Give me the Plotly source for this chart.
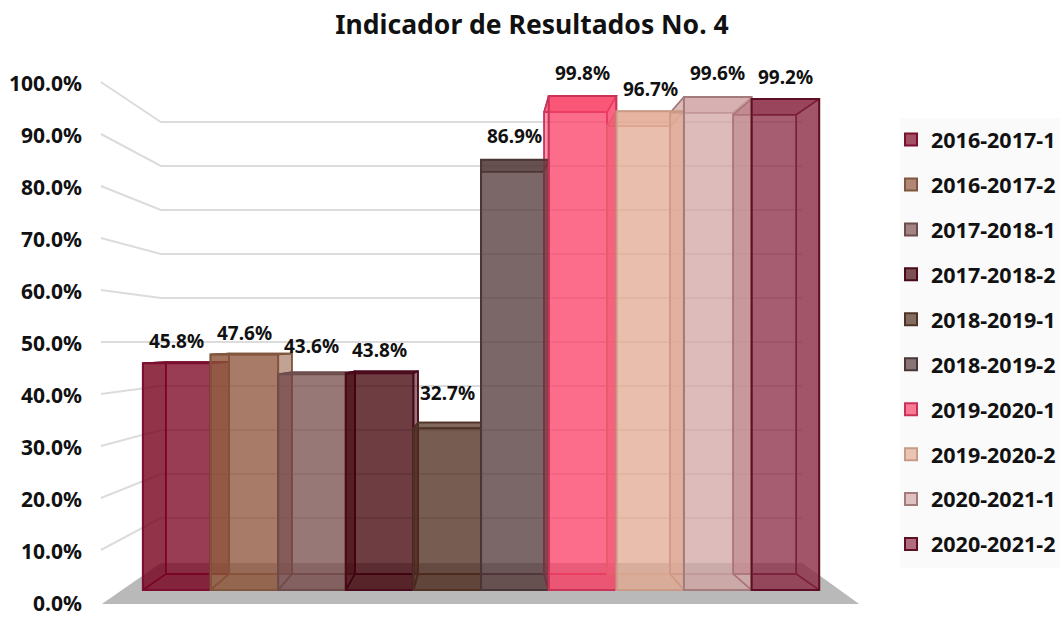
import plotly.graph_objects as go

periods = ["2016-2017-1", "2016-2017-2", "2017-2018-1", "2017-2018-2", "2018-2019-1",
           "2018-2019-2", "2019-2020-1", "2019-2020-2", "2020-2021-1", "2020-2021-2"]
values = [45.8, 47.6, 43.6, 43.8, 32.7, 86.9, 99.8, 96.7, 99.6, 99.2]
fills = [(120, 0, 30), (139, 81, 55), (120, 75, 75), (62, 0, 6), (75, 40, 27),
         (81, 55, 55), (249, 62, 100), (226, 169, 146), (210, 165, 165), (139, 42, 68)]
edges = ["#7a0f2e", "#80563f", "#6e4c4c", "#4a0a1c", "#4f3327",
         "#4a3636", "#c93358", "#c99a85", "#a37b7b", "#5e0f26"]
label_shift = [22, 21, 28, 23, 35, 24, 23, 22, 24, 22]
ticks = [0, 10, 20, 30, 40, 50, 60, 70, 80, 90, 100]

W, H = 1061, 624
FONT = "Noto Sans"
# projection of the 3-D box onto the page
FX0, FDX, BX0, BDX = 143.0, 67.7, 166.0, 63.1      # front / back plane, per category
FY0, FK, BY0, BK = 590.0, 4.95, 574.0, 4.63        # front / back plane, per percent
LY0, LK = 604.0, 5.2                               # axis-label scale
WALL_Y0, WALL_K = 562.0, 4.4                       # back-wall scale


def u_x(px):
    return (px - FX0) / FDX


def u_y(py):
    return (LY0 - py) / LK


def front(e, v):
    return u_x(FX0 + FDX * e), u_y(FY0 - FK * v)


def back(e, v):
    return u_x(BX0 + BDX * e), u_y(BY0 - BK * v)


def poly(points):
    return [p[0] for p in points] + [points[0][0], None], [p[1] for p in points] + [points[0][1], None]


def faces_trace(faces, colour, edge, alpha):
    xs, ys = [], []
    for f in faces:
        px, py = poly(f)
        xs += px
        ys += py
    r, g, bl = colour
    return go.Scatter(x=xs, y=ys, fill="toself", fillcolor=f"rgba({r},{g},{bl},{alpha})",
                      mode="lines", line=dict(color=edge, width=1.5),
                      showlegend=False, hoverinfo="skip")


fig = go.Figure()

# floor
fx, fy = poly([(u_x(102), u_y(604)), (u_x(860), u_y(604)), (u_x(803), u_y(563)), (u_x(161), u_y(563))])
fig.add_trace(go.Scatter(x=fx, y=fy, fill="toself", fillcolor="#b9b9b9", mode="lines",
                         line=dict(width=0), showlegend=False, hoverinfo="skip"))

# side-wall and back-wall gridlines
gx, gy = [], []
for t in ticks[1:]:
    gx += [u_x(101), u_x(161), u_x(803), None]
    wall = u_y(WALL_Y0 - WALL_K * t)
    gy += [u_y(602 - LK * t), wall, wall, None]
fig.add_trace(go.Scatter(x=gx, y=gy, mode="lines", line=dict(color="#dcdcdc", width=2),
                         showlegend=False, hoverinfo="skip"))

# back, side, top and bottom faces of each bar
for i, v in enumerate(values):
    a, b = i, i + 1
    fig.add_trace(faces_trace([[back(a, 0), back(b, 0), back(b, v), back(a, v)]], fills[i], edges[i], 0.25))
    fig.add_trace(faces_trace([
        [front(a, 0), back(a, 0), back(a, v), front(a, v)],
        [back(b, 0), front(b, 0), front(b, v), back(b, v)],
        [front(a, 0), front(b, 0), back(b, 0), back(a, 0)],
    ], fills[i], edges[i], 0.38))
    fig.add_trace(faces_trace([[front(a, v), back(a, v), back(b, v), front(b, v)]], fills[i], edges[i], 0.6))

# front faces: the bars themselves
for i, v in enumerate(values):
    r, g, bl = fills[i]
    fig.add_trace(go.Bar(x=[i + 0.5], y=[v], width=1, name=periods[i], legendgroup=periods[i],
                         xaxis="x2", yaxis="y2",
                         marker=dict(color=f"rgba({r},{g},{bl},0.68)", line=dict(color=edges[i], width=2)),
                         hovertemplate="%{y:.1f}%<extra>" + periods[i] + "</extra>"))

annotations = [dict(x=i + 0.5, y=v, xref="x2", yref="y2", yshift=label_shift[i], text=f"{v:.1f}%",
                    showarrow=False, font=dict(family=FONT, size=19, color="#111111", weight="bold"))
               for i, v in enumerate(values)]

x_range = [u_x(0), u_x(W)]
hidden = dict(showgrid=False, zeroline=False, showline=False, showticklabels=False, ticks="")
fig.update_layout(
    width=W, height=H, autosize=False,
    margin=dict(l=0, r=0, t=0, b=0),
    paper_bgcolor="white", plot_bgcolor="rgba(0,0,0,0)",
    barmode="overlay",
    title=dict(text="<b>Indicador de Resultados No. 4</b>", x=532 / W, y=1 - 25 / H,
               xanchor="center", yanchor="middle", font=dict(family=FONT, size=26.5, color="#111111")),
    xaxis=dict(range=x_range, domain=[0, 1], **hidden),
    xaxis2=dict(range=x_range, domain=[0, 1], overlaying="x", anchor="y2", **hidden),
    yaxis=dict(range=[u_y(H), u_y(0)], domain=[0, 1], anchor="free", position=82 / W,
               tickvals=ticks, ticktext=[f"{t:.1f}%" for t in ticks], showgrid=False, zeroline=False,
               showline=False, ticks="", tickfont=dict(family=FONT, size=21, color="#111111", weight="bold")),
    yaxis2=dict(range=[(FY0 - H) / FK, FY0 / FK], domain=[0, 1], overlaying="y", anchor="x2", **hidden),
    legend=dict(x=892 / W, xanchor="left", y=1 - 119 / H, yanchor="top", tracegroupgap=14,
                bgcolor="rgba(0,0,0,0)", font=dict(family=FONT, size=21.5, color="#111111", weight="bold")),
    shapes=[dict(type="rect", xref="paper", yref="paper", x0=901 / W, x1=1, y0=1 - 568 / H, y1=1 - 118 / H,
                 fillcolor="#fafafa", line=dict(width=0), layer="below")],
    annotations=annotations,
)
fig.write_html("out.html", config=dict(displayModeBar=False), post_script="document.body.style.margin='0';")
